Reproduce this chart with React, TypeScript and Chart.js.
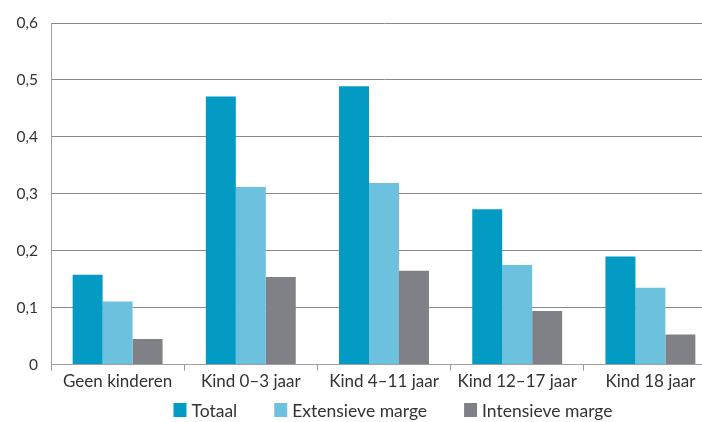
import { useEffect, useRef } from 'react';
import { Chart, registerables } from 'chart.js';

Chart.register(...registerables);

const categories = ['Geen kinderen', 'Kind 0–3 jaar', 'Kind 4–11 jaar', 'Kind 12–17 jaar', 'Kind 18 jaar'];
const totaal = [0.158, 0.471, 0.489, 0.273, 0.19];
const extensieveMarge = [0.111, 0.312, 0.319, 0.175, 0.135];
const intensieveMarge = [0.045, 0.154, 0.165, 0.094, 0.053];
const seriesLabels = ['Totaal', 'Extensieve marge', 'Intensieve marge'];
const seriesColors = ['#039AC4', '#6CC1DF', '#808186'];

const FONT = 'Lato, "Noto Sans", sans-serif';

// Draws the single-row legend under the x axis.
const bottomLegend = {
  id: 'bottomLegend',
  afterDraw(chart: Chart) {
    const { ctx } = chart;
    const box = 13;
    const boxH = 14;
    const gapText = 5;
    const gapItem = 37;
    ctx.save();
    ctx.font = `17.5px ${FONT}`;
    const items = chart.data.datasets.map((ds) => ({
      text: String(ds.label),
      color: ds.backgroundColor as string,
      w: box + gapText + ctx.measureText(String(ds.label)).width,
    }));
    const total = items.reduce((s, it) => s + it.w, 0) + gapItem * (items.length - 1);
    let x = 393 - total / 2;
    const cy = 410;
    ctx.textBaseline = 'middle';
    ctx.textAlign = 'left';
    items.forEach((it) => {
      ctx.fillStyle = it.color;
      ctx.fillRect(x, cy - boxH / 2, box, boxH);
      ctx.fillStyle = '#333333';
      ctx.fillText(it.text, x + box + gapText, cy + 1);
      x += it.w + gapItem;
    });
    ctx.restore();
  },
};

export default function App() {
  const ref = useRef<HTMLCanvasElement | null>(null);

  useEffect(() => {
    if (!ref.current) return;
    const values = [totaal, extensieveMarge, intensieveMarge];
    const chart = new Chart(ref.current, {
      type: 'bar',
      data: {
        labels: categories,
        datasets: values.map((data, i) => ({
          label: seriesLabels[i],
          data,
          backgroundColor: seriesColors[i],
          borderWidth: 0,
          categoryPercentage: 0.675,
          barPercentage: 1,
        })),
      },
      options: {
        animation: false,
        responsive: false,
        maintainAspectRatio: false,
        layout: { padding: { left: 0, right: 3, top: 23, bottom: 29 } },
        plugins: {
          legend: { display: false },
          tooltip: { enabled: false },
        },
        scales: {
          x: {
            grid: {
              drawOnChartArea: false,
              drawTicks: true,
              tickLength: 6,
              color: '#9a9a9a',
              offset: true,
            },
            border: { color: '#a0a0a0', width: 1 },
            ticks: {
              color: '#333333',
              font: { family: FONT, size: 17 },
              padding: 1,
              maxRotation: 0,
            },
          },
          y: {
            min: 0,
            max: 0.6,
            grid: { color: '#8a8a8a', drawTicks: false, lineWidth: 1 },
            border: { color: '#a0a0a0', width: 1 },
            ticks: {
              stepSize: 0.1,
              color: '#333333',
              font: { family: FONT, size: 15.5 },
              padding: 13,
              callback: (v) => (Number(v) === 0 ? '0' : Number(v).toFixed(1).replace('.', ',')),
            },
            afterFit: (scale) => {
              scale.width = 51;
            },
          },
        },
      },
      plugins: [bottomLegend],
    });
    return () => chart.destroy();
  }, []);

  return (
    <div style={{ position: 'fixed', left: 0, top: 0, width: 702, height: 422, overflow: 'hidden', background: '#fff' }}>
      <canvas ref={ref} width={720} height={422} style={{ display: 'block' }} />
    </div>
  );
}
